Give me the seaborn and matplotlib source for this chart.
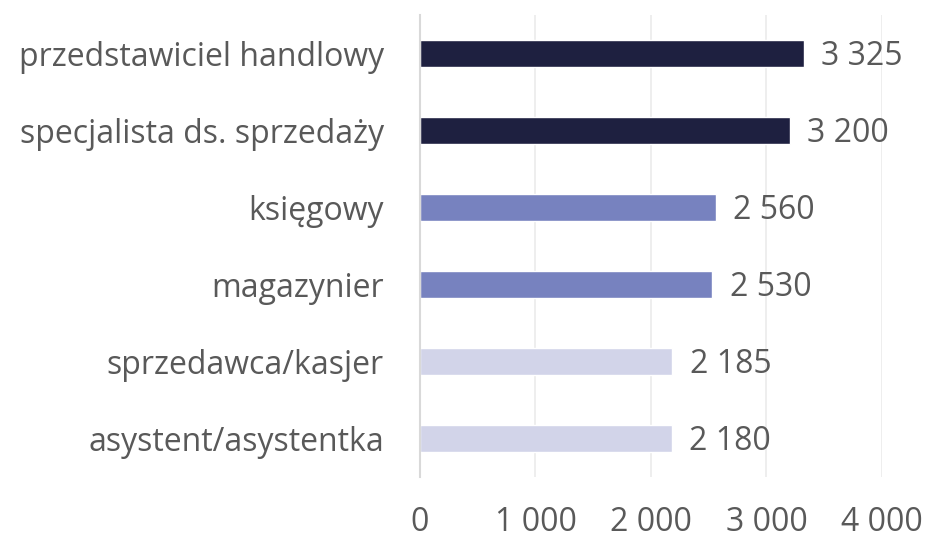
import matplotlib
matplotlib.use("Agg")
import matplotlib.pyplot as plt
import seaborn as sns
import pandas as pd

categories = ["przedstawiciel handlowy", "specjalista ds. sprzedaży", "księgowy",
              "magazynier", "sprzedawca/kasjer", "asystent/asystentka"]
values = [3325, 3200, 2560, 2530, 2185, 2180]
bar_colors = ["#1e2040", "#1e2040", "#7782bf", "#7782bf", "#d2d4e9", "#d2d4e9"]
xticks = [0, 1000, 2000, 3000, 4000]


def fmt(v):
    return f"{v:,}".replace(",", " ")


df = pd.DataFrame({"kategoria": categories, "wartosc": values})

sns.set_theme(style="white")
plt.rcParams["font.family"] = ["Open Sans", "DejaVu Sans"]
text_color = "#595959"
fs = 23

fig = plt.figure(figsize=(9.25, 5.39), dpi=100)
ax = fig.add_axes([0.454, 0.115, 0.4995, 0.857])

sns.barplot(data=df, x="wartosc", y="kategoria", hue="kategoria",
            palette=bar_colors, legend=False, width=0.36, ax=ax, saturation=1)

for i, v in enumerate(values):
    ax.text(v + 150, i + 0.04, fmt(v), va="center", ha="left", fontsize=fs, color=text_color)

ax.set_xlim(0, 4000)
ax.set_xticks(xticks)
ax.set_xticklabels([fmt(t) for t in xticks])
ax.tick_params(axis="x", labelsize=fs, colors=text_color, pad=21, length=0)
ax.tick_params(axis="y", labelsize=fs, colors=text_color, pad=26, length=0)
ax.set_xlabel("")
ax.set_ylabel("")

ax.grid(axis="x", color="#ebebeb", linewidth=1.2)
ax.set_axisbelow(True)
for side in ["top", "right", "bottom"]:
    ax.spines[side].set_visible(False)
ax.spines["left"].set_color("#d9d9d9")
ax.spines["left"].set_linewidth(1.5)

fig.savefig("out.png", dpi=100)
